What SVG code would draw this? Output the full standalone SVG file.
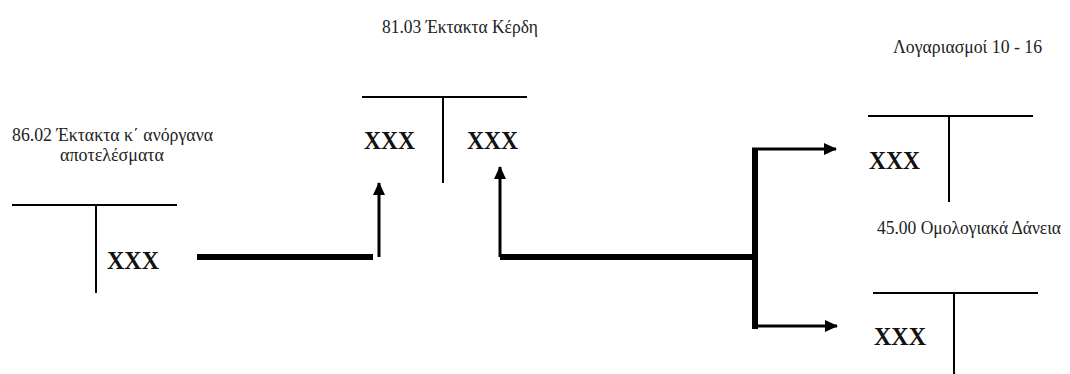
<svg xmlns="http://www.w3.org/2000/svg" width="1070" height="374" viewBox="0 0 1070 374">
  <style>
    .bg { fill: #ffffff; }
    .t-line { stroke: #000; stroke-width: 2; fill: none; }
    .label { font-family: "Liberation Serif", "DejaVu Serif", serif; font-size: 19px; fill: #222; }
    .label-sm { font-size: 18px; }
    .amount { font-family: "Liberation Serif", "DejaVu Serif", serif; font-size: 26px; font-weight: bold; fill: #111; }
    .flow-thick { stroke: #000; stroke-width: 6; fill: none; }
    .flow-arrow { stroke: #000; stroke-width: 3; fill: none; marker-end: url(#head); }
  </style>
  <defs>
    <marker id="head" markerUnits="userSpaceOnUse" markerWidth="14" markerHeight="12" refX="12" refY="6" orient="auto">
      <path d="M0,0 L13,6 L0,12 Z" fill="#000"/>
    </marker>
  </defs>

  <rect class="bg" x="0" y="0" width="1070" height="374"/>

  <!-- account 86.02 (left T-account) -->
  <g id="acc-8602">
    <text class="label" x="12" y="141" textLength="201" lengthAdjust="spacingAndGlyphs">86.02 Έκτακτα κ΄ ανόργανα</text>
    <text class="label" x="60" y="161" textLength="104" lengthAdjust="spacingAndGlyphs">αποτελέσματα</text>
    <line class="t-line" x1="12" y1="205" x2="177" y2="205"/>
    <line class="t-line" x1="96" y1="205" x2="96" y2="293"/>
    <text class="amount" x="107" y="269" textLength="52" lengthAdjust="spacingAndGlyphs">XXX</text>
  </g>

  <!-- account 81.03 (middle T-account) -->
  <g id="acc-8103">
    <text class="label" x="382" y="33" textLength="156" lengthAdjust="spacingAndGlyphs">81.03 Έκτακτα Κέρδη</text>
    <line class="t-line" x1="362" y1="97" x2="527" y2="97"/>
    <line class="t-line" x1="443" y1="97" x2="443" y2="183"/>
    <text class="amount" x="364" y="149" textLength="51" lengthAdjust="spacingAndGlyphs">XXX</text>
    <text class="amount" x="467" y="149" textLength="51" lengthAdjust="spacingAndGlyphs">XXX</text>
  </g>

  <!-- accounts 10 - 16 (upper right T-account) -->
  <g id="acc-10-16">
    <text class="label" x="893" y="53" textLength="149" lengthAdjust="spacingAndGlyphs">Λογαριασμοί 10 - 16</text>
    <line class="t-line" x1="868" y1="116" x2="1033" y2="116"/>
    <line class="t-line" x1="949" y1="116" x2="949" y2="202"/>
    <text class="amount" x="869" y="169" textLength="51" lengthAdjust="spacingAndGlyphs">XXX</text>
  </g>

  <!-- account 45.00 (lower right T-account) -->
  <g id="acc-4500">
    <text class="label label-sm" x="877" y="234" textLength="184" lengthAdjust="spacingAndGlyphs">45.00 Ομολογιακά Δάνεια</text>
    <line class="t-line" x1="873" y1="293" x2="1038" y2="293"/>
    <line class="t-line" x1="954" y1="293" x2="954" y2="374"/>
    <text class="amount" x="874" y="345" textLength="52" lengthAdjust="spacingAndGlyphs">XXX</text>
  </g>

  <!-- posting connectors -->
  <g id="connectors">
    <line class="flow-thick" x1="197" y1="257" x2="373" y2="257"/>
    <line class="flow-arrow" x1="379" y1="257" x2="379" y2="183"/>
    <polyline class="flow-arrow" points="500,257 500,167"/>
    <polyline class="flow-thick" points="500,257 755,257"/>
    <line class="flow-thick" x1="755" y1="148" x2="755" y2="329"/>
    <line class="flow-arrow" x1="752" y1="149" x2="836" y2="149"/>
    <line class="flow-arrow" x1="752" y1="326" x2="837" y2="326"/>
  </g>
</svg>
